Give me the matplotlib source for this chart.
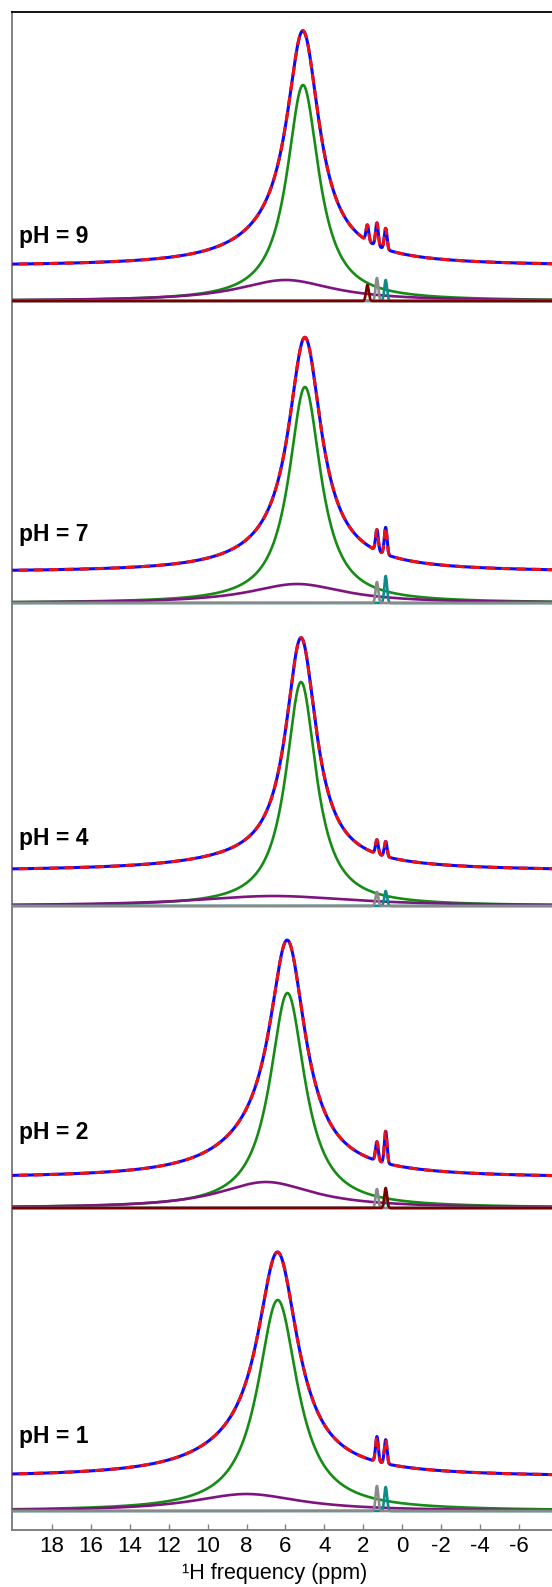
import numpy as np
import matplotlib.pyplot as plt

plt.rcParams['font.family'] = ['Liberation Sans', 'DejaVu Sans']

# one trace per pH, top to bottom
ph_labels = ['pH = 9', 'pH = 7', 'pH = 4', 'pH = 2', 'pH = 1']
stack_offset = [1229, 927, 624, 322, 19]      # zero line of the fitted components
spectrum_lift = [35, 31, 35, 30, 34]          # spectrum drawn above its components

# main peak (green)
main_pos = [5.1, 5.0, 5.2, 5.9, 6.4]
main_height = [216, 216, 224, 215, 211]
main_hwhm = [1.0, 1.0, 0.95, 1.1, 1.25]

# broad peak (purple)
broad_pos = [6.0, 5.4, 6.6, 7.0, 8.0]
broad_height = [21, 19, 10, 26, 17]
broad_hwhm = [3.0, 3.0, 5.0, 3.0, 3.4]

# narrow peaks: gray ~1.3 ppm, teal ~0.85 ppm, dark red where present
gray_pos = 1.3
gray_height = [23, 21, 14, 19, 25]
teal_pos = 0.85
teal_height = [21, 27, 15, 12, 24]
darkred_pos = [1.79, 0.0, 0.0, 0.85, 0.0]
darkred_height = [16, 0, 0, 20, 0]
narrow_sigma = 0.07

ppm = np.linspace(20.5, -8.5, 4000)


def lorentz(x, x0, h, w):
    return h / (1 + ((x - x0) / w) ** 2)


def gauss(x, x0, h, s):
    return h * np.exp(-0.5 * ((x - x0) / s) ** 2)


fig = plt.figure(figsize=(5.52, 15.87), dpi=100)
ax = fig.add_axes([11.6 / 552, 57 / 1587, (552 - 11.6) / 552, (1530 - 12) / 1587])

label_rise = [65, 69, 68, 75, 75]

for i, label in enumerate(ph_labels):
    base = stack_offset[i]
    green = lorentz(ppm, main_pos[i], main_height[i], main_hwhm[i])
    purple = lorentz(ppm, broad_pos[i], broad_height[i], broad_hwhm[i])
    gray = gauss(ppm, gray_pos, gray_height[i], narrow_sigma)
    teal = gauss(ppm, teal_pos, teal_height[i], narrow_sigma)
    dred = gauss(ppm, darkred_pos[i], darkred_height[i], narrow_sigma)
    total = green + purple + gray + teal + dred

    top = base + spectrum_lift[i]
    ax.plot(ppm, top + total, color='#0a0aff', lw=2.2, zorder=5)
    ax.plot(ppm, top + total, color='#f01010', lw=2.2, dashes=(3, 2), zorder=6)

    ax.plot(ppm, base + green, color='#168c16', lw=1.9, zorder=2)
    ax.plot(ppm, base + purple, color='#7d1480', lw=1.9, zorder=3)
    ax.plot(ppm, base + teal, color='#0d8b8b', lw=1.9, zorder=3)
    ax.plot(ppm, base + gray, color='#8a8a8a', lw=1.9, zorder=4)
    if darkred_height[i] > 0:
        ax.plot(ppm, base + dred, color='#7a0000', lw=1.9, zorder=4)

    ax.text(19.7, base + label_rise[i], label, fontsize=16.5, fontweight='bold',
            va='center', ha='left')

ax.set_xlim(20.08, -7.7)
ax.set_ylim(0, 1518)
ax.set_xticks(np.arange(18, -7, -2))
ax.set_xticklabels([str(t) for t in range(18, -7, -2)])
ax.set_yticks([])
ax.tick_params(axis='x', direction='in', length=4, width=1, color='#808080',
               labelsize=16, pad=4)
ax.set_xlabel('¹H frequency (ppm)', fontsize=15.5, labelpad=5)
ax.xaxis.label.set_x(0.487)

ax.spines['right'].set_visible(False)
ax.spines['top'].set_color('#111111')
ax.spines['top'].set_linewidth(1.4)
for side in ('left', 'bottom'):
    ax.spines[side].set_color('#808080')
    ax.spines[side].set_linewidth(1.4)

fig.savefig('out.png', dpi=100)
